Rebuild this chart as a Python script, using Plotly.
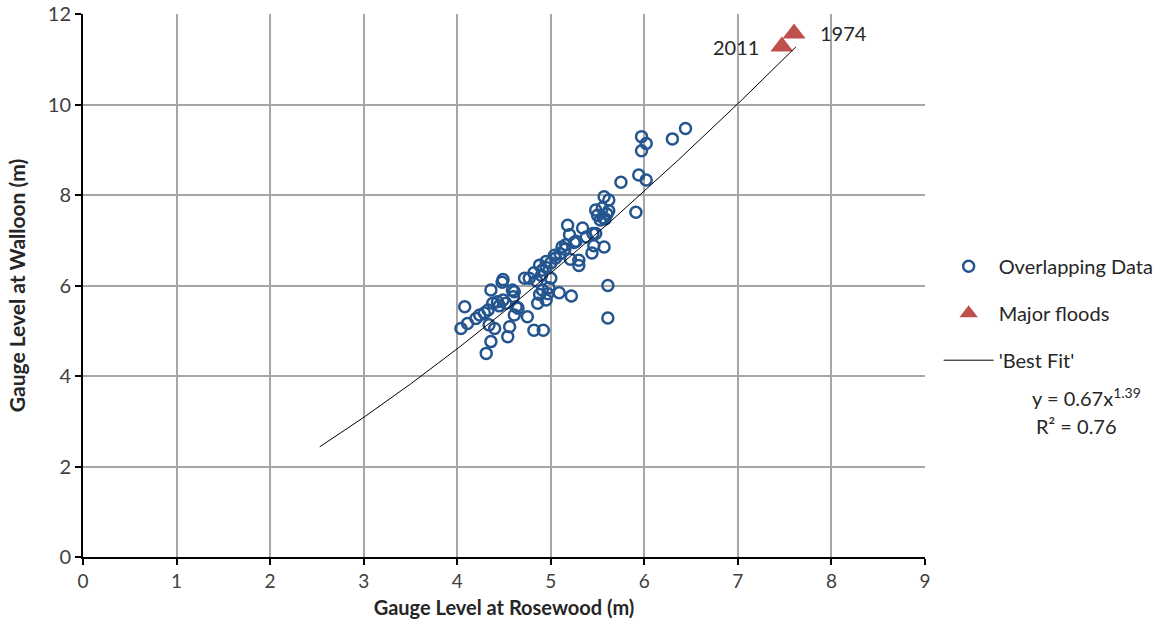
import numpy as np
import plotly.graph_objects as go

# Overlapping gauge records (Rosewood vs Walloon), metres
rosewood = [6.44, 6.30, 5.97, 6.02, 5.97, 5.94, 6.02, 5.75, 5.57, 5.62, 5.91, 5.48, 5.55, 5.50,
            5.56, 5.60, 5.62, 5.53, 5.58, 5.18, 5.34, 5.20, 5.45, 5.48, 5.27, 5.38, 5.46, 5.57,
            5.44, 5.12, 5.16, 5.04, 4.95, 5.21, 5.30, 5.30, 4.88, 4.91, 4.82, 4.72, 4.77, 5.00,
            4.49, 4.48, 5.61, 4.91, 4.88, 4.97, 5.09, 5.22, 4.86, 4.95, 4.59, 4.61, 4.36, 4.08,
            4.38, 4.43, 4.49, 4.52, 4.63, 4.65, 4.33, 4.29, 4.24, 4.20, 4.11, 4.04, 4.34, 4.40,
            4.61, 4.75, 4.56, 4.54, 4.82, 4.92, 4.36, 4.31, 5.61, 5.05, 5.10, 5.00, 4.95, 4.90,
            4.85, 4.60, 4.45, 4.98, 5.15, 5.25]
walloon = [9.47, 9.24, 9.29, 9.14, 8.98, 8.44, 8.33, 8.28, 7.96, 7.89, 7.62, 7.67, 7.71, 7.55,
           7.50, 7.58, 7.65, 7.45, 7.47, 7.33, 7.27, 7.12, 7.15, 7.15, 6.98, 7.07, 6.88, 6.85,
           6.72, 6.85, 6.90, 6.67, 6.53, 6.58, 6.56, 6.44, 6.45, 6.34, 6.28, 6.16, 6.16, 6.16,
           6.13, 6.07, 6.00, 5.90, 5.80, 5.82, 5.84, 5.77, 5.61, 5.68, 5.90, 5.86, 5.90, 5.53,
           5.61, 5.64, 5.68, 5.61, 5.53, 5.50, 5.46, 5.39, 5.35, 5.27, 5.16, 5.05, 5.13, 5.05,
           5.35, 5.31, 5.09, 4.87, 5.01, 5.01, 4.76, 4.50, 5.28, 6.60, 6.70, 6.50, 6.40, 6.22,
           6.10, 5.75, 5.55, 5.95, 6.80, 6.95]

# Major flood peaks
flood_years = ["2011", "1974"]
flood_rosewood = [7.47, 7.60]
flood_walloon = [11.28, 11.57]

# Power-law fit y = a * x^b
fit_a = 0.67
fit_b = 1.39
fit_r2 = 0.76
fit_x_range = [2.53, 7.62]

fit_x = np.linspace(fit_x_range[0], fit_x_range[1], 200)
fit_y = fit_a * fit_x ** fit_b

font_family = "Lato, 'Open Sans', sans-serif"
text_color = "#262626"

fig = go.Figure()

fig.add_trace(go.Scatter(
    x=rosewood, y=walloon, mode="markers", name="Overlapping Data", legendgroup="a",
    marker=dict(symbol="circle-open", size=11, color="#24558f",
                line=dict(width=2.5, color="#24558f")),
))

fig.add_trace(go.Scatter(
    x=flood_rosewood, y=flood_walloon, mode="markers", name="Major floods", legendgroup="b",
    marker=dict(symbol="triangle-up", size=20, color="#c0504d"),
))

fig.add_trace(go.Scatter(
    x=fit_x, y=fit_y, mode="lines", name="'Best Fit'", legendgroup="c",
    line=dict(color="black", width=1),
))

# Year labels beside the flood markers
fig.add_annotation(x=flood_rosewood[0], y=flood_walloon[0], text=flood_years[0],
                   showarrow=False, xanchor="right", xshift=-21, yshift=0,
                   font=dict(size=20, color=text_color, family=font_family))
fig.add_annotation(x=flood_rosewood[1], y=flood_walloon[1], text=flood_years[1],
                   showarrow=False, xanchor="left", xshift=24, yshift=0,
                   font=dict(size=20, color=text_color, family=font_family))

# Fit equation and R² under the legend
fig.add_annotation(xref="paper", yref="paper", x=1.125, y=0.294,
                   text=f"y = {fit_a}x<sup>{fit_b}</sup>", showarrow=False,
                   xanchor="left", yanchor="middle",
                   font=dict(size=20, color=text_color, family=font_family))
fig.add_annotation(xref="paper", yref="paper", x=1.13, y=0.241,
                   text=f"R² = {fit_r2}", showarrow=False,
                   xanchor="left", yanchor="middle",
                   font=dict(size=20, color=text_color, family=font_family))

axis_common = dict(
    showgrid=True, gridcolor="#a6a6a6", gridwidth=2,
    showline=True, linecolor="black", linewidth=2,
    ticks="outside", ticklen=6, tickcolor="black", tickwidth=2,
    zeroline=False, automargin=False,
)

fig.update_xaxes(range=[0, 9], dtick=1, **axis_common,
                 tickfont=dict(size=19, color="#404040", family=font_family),
                 title=dict(text="<b>Gauge Level at Rosewood (m)</b>",
                            font=dict(size=20, color=text_color, family=font_family), standoff=10))
fig.update_yaxes(range=[0, 12], dtick=2, **axis_common,
                 tickfont=dict(size=20, color="#404040", family=font_family),
                 title=dict(text="<b>Gauge Level at Walloon (m)</b>",
                            font=dict(size=21, color=text_color, family=font_family), standoff=16))

fig.update_layout(
    width=1170, height=627,
    margin=dict(l=83, r=244, t=14, b=70),
    paper_bgcolor="white", plot_bgcolor="white",
    showlegend=True,
    legend=dict(x=1.015, y=0.449, xanchor="left", yanchor="middle",
                font=dict(size=20, color=text_color, family=font_family),
                tracegroupgap=18, itemwidth=50),
)

fig.write_html("out.html")
